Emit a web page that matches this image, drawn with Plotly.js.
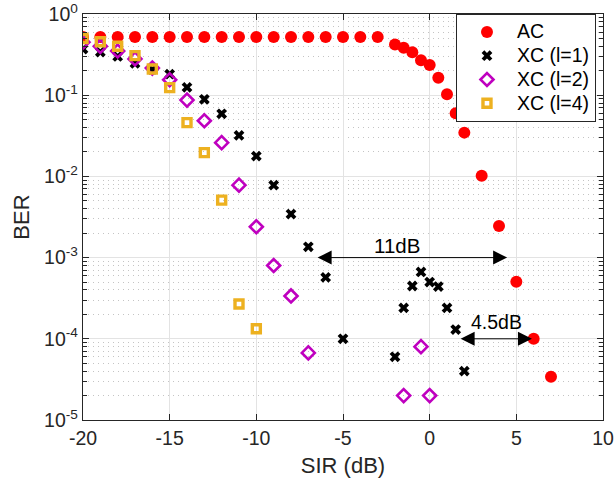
<!DOCTYPE html>
<html>
<head>
<meta charset="utf-8">
<script src="https://cdn.plot.ly/plotly-3.0.1.min.js"></script>
<style>html,body{margin:0;padding:0;background:#fff}#chart{width:614px;height:485px}</style>
</head>
<body>
<div id="chart"></div>
<script>
// ---- data ----
const acX = [-20,-19,-18,-17,-16,-15,-14,-13,-12,-11,-10,-9,-8,-7,-6,-5,-4,-3,-2,-1.5,-1,-0.5,0,0.5,1,1.5,2,3,4,5,6,7];
const acY = [0.52,0.52,0.52,0.52,0.52,0.52,0.52,0.52,0.52,0.52,0.52,0.52,0.52,0.52,0.52,0.52,0.52,0.52,0.42,0.385,0.337,0.27,0.235,0.164,0.103,0.060,0.0346,0.0102,0.00245,5.05e-4,1.0e-4,3.4e-5];

const xc1X = [-20,-19,-18,-17,-16,-15,-14,-13,-12,-11,-10,-9,-8,-7,-6,-5,-2,-1.5,-1,-0.5,0,0.5,1,1.5,2];
const xc1Y = [0.37,0.34,0.30,0.247,0.208,0.182,0.125,0.089,0.059,0.032,0.0178,0.0078,0.00344,0.00136,5.7e-4,1.0e-4,6.0e-5,2.4e-4,4.47e-4,6.65e-4,5.0e-4,4.4e-4,2.4e-4,1.3e-4,4.0e-5];

const xc2X = [-20,-19,-18,-17,-16,-15,-14,-13,-12,-11,-10,-9,-8,-7,-1.5,-0.5,0];
const xc2Y = [0.45,0.40,0.35,0.28,0.216,0.155,0.087,0.0485,0.026,0.0078,0.0024,8.0e-4,3.37e-4,6.7e-5,2.0e-5,8.0e-5,2.0e-5];

const xc4X = [-20,-19,-18,-17,-16,-15,-14,-13,-12,-11,-10];
const xc4Y = [0.50,0.456,0.40,0.307,0.21,0.124,0.046,0.0196,0.0051,2.68e-4,1.33e-4];

const seriesNames = ['AC','XC (l=1)','XC (l=2)','XC (l=4)'];

const xTickVals = [-20,-15,-10,-5,0,5,10];
const xTickText = ['-20','-15','-10','-5','0','5','10'];
const yTickVals = [1,0.1,0.01,0.001,0.0001,0.00001];
const yTickText = ['10<sup>0</sup>','10<sup>-1</sup>','10<sup>-2</sup>','10<sup>-3</sup>','10<sup>-4</sup>','10<sup>-5</sup>'];

// minor tick positions on the log axis (2..9 x each decade)
const yMinor = [];
for (let e = -5; e < 0; e++) for (let m = 2; m <= 9; m++) yMinor.push(m * Math.pow(10, e));

const FONT = '"Liberation Sans", Arial, Helvetica, sans-serif';
const AX = '#262626';
const legName = s => '<span style="font-size:19.5px">' + s + '</span>';

const traces = [
  {x: acX, y: acY, name: legName(seriesNames[0]), mode: 'markers', type: 'scatter',
   marker: {symbol: 'circle', size: 12, color: '#ff0000'}},
  {x: xc1X, y: xc1Y, name: legName(seriesNames[1]), mode: 'markers', type: 'scatter',
   marker: {symbol: 'x', size: 9.5, color: '#000000'}},
  {x: xc2X, y: xc2Y, name: legName(seriesNames[2]), mode: 'markers', type: 'scatter',
   marker: {symbol: 'diamond-open', size: 10, color: '#bf00bf', line: {width: 2.6, color: '#bf00bf'}}},
  {x: xc4X, y: xc4Y, name: legName(seriesNames[3]), mode: 'markers', type: 'scatter',
   marker: {symbol: 'square-open', size: 8, color: '#edb120', line: {width: 3.4, color: '#edb120'}}}
];

const arrowCommon = {xref: 'x', yref: 'y', axref: 'x', ayref: 'y', showarrow: true, text: '',
  arrowhead: 2, startarrowhead: 2, arrowside: 'end+start', arrowsize: 2.8, startarrowsize: 2.8,
  arrowwidth: 1, arrowcolor: '#000'};

const layout = {
  width: 614, height: 485,
  margin: {l: 83, r: 11, t: 14, b: 65},
  paper_bgcolor: '#fff', plot_bgcolor: '#fff',
  font: {family: FONT, size: 19, color: AX},
  showlegend: true,
  legend: {x: 0.9865, xanchor: 'right', y: 1, yanchor: 'top',
    bgcolor: '#fff', bordercolor: AX, borderwidth: 1, itemwidth: 50,
    font: {family: FONT, size: 16, color: '#000'}, tracegroupgap: 0},
  xaxis: {range: [-20, 10], tickmode: 'array', tickvals: xTickVals, ticktext: xTickText,
    ticks: 'inside', ticklen: 6, tickwidth: 1, tickcolor: AX,
    showline: true, linecolor: AX, linewidth: 1.2, mirror: 'ticks',
    showgrid: true, gridcolor: '#e3e3e3', gridwidth: 1, zeroline: false,
    tickfont: {family: FONT, size: 19.5, color: AX},
    title: {text: 'SIR (dB)', font: {family: FONT, size: 22, color: AX}, standoff: 10}},
  yaxis: {type: 'log', range: [-5, 0], tickmode: 'array', tickvals: yTickVals, ticktext: yTickText,
    ticks: 'inside', ticklen: 6, tickwidth: 1, tickcolor: AX,
    showline: true, linecolor: AX, linewidth: 1.2, mirror: 'ticks',
    showgrid: true, gridcolor: '#e3e3e3', gridwidth: 1, zeroline: false,
    tickfont: {family: FONT, size: 19.5, color: AX},
    minor: {tickmode: 'array', tickvals: yMinor, ticks: 'inside', ticklen: 4, tickcolor: AX,
      showgrid: true, gridcolor: '#c4c4c4', griddash: '1px,4px', gridwidth: 1},
    title: {text: 'BER', font: {family: FONT, size: 22, color: AX}, standoff: 8}},
  annotations: [
    Object.assign({}, arrowCommon, {x: 4.47, y: -3, ax: -6.55, ay: -3}),
    Object.assign({}, arrowCommon, {x: 5.9, y: -4, ax: 1.7, ay: -4}),
    {xref: 'x', yref: 'y', x: -1.9, y: -2.845, text: '11dB', showarrow: false,
     font: {family: FONT, size: 20.5, color: '#000'}},
    {xref: 'x', yref: 'y', x: 3.83, y: -3.79, text: '4.5dB', showarrow: false,
     font: {family: FONT, size: 19.5, color: '#000'}}
  ]
};

Plotly.newPlot('chart', traces, layout, {displayModeBar: false, staticPlot: true});
</script>
</body>
</html>
